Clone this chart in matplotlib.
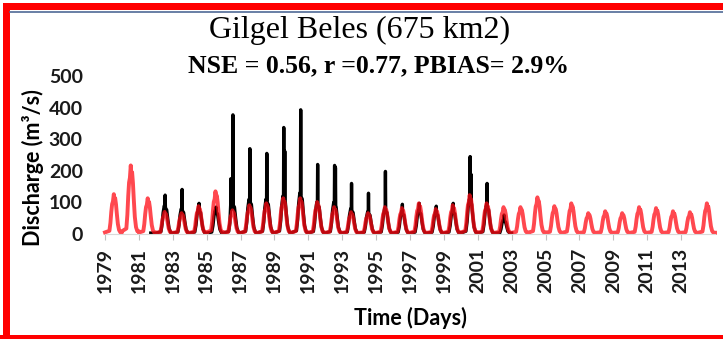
"""
Hidrograma diario Gilgel Beles: caudal simulado vs observado.
"""

import matplotlib.pyplot as plt
import matplotlib.patches as patches
from matplotlib.lines import Line2D

# ============================================
# 1. Datos
# ============================================
SIM_YEARS = list(range(1979, 2015))
# pico anual simulado (m3/s)
SIM_PEAK = [126, 217, 113, 70, 66, 88, 135, 75, 91, 97, 113, 113, 101, 85, 69, 66, 85, 82,
            97, 79, 91, 123, 97, 85, 85, 116, 88, 97, 66, 72, 66, 85, 82, 72, 69, 97]

OBS_YEARS = list(range(1982, 2003))
# pico diario observado (m3/s)
OBS_PEAK = [123, 141, 97, 85, 377, 270, 255, 337, 393, 220, 217, 160, 129, 198, 94, 97,
            88, 97, 245, 160, 60]
# nivel de la crecida estacional observada
OBS_HUMP = [90, 80, 80, 75, 100, 110, 110, 120, 130, 100, 100, 80, 70, 80, 70, 75, 70, 75,
            110, 90, 45]
# segundo pico visible: año -> (fracción del año, caudal)
OBS_SECOND = {1986: (0.43, 175), 1989: (0.61, 262), 1992: (0.60, 210), 2000: (0.60, 189)}

# forma de la crecida anual (fracción del año, fracción del pico)
SIM_SHAPE_T = [0.0, 0.26, 0.32, 0.37, 0.42, 0.47, 0.52, 0.56, 0.60, 0.65, 0.70, 0.76, 0.83, 0.91, 1.0]
SIM_SHAPE_V = [0.04, 0.08, 0.28, 0.55, 0.75, 0.82, 1.0, 0.86, 0.9, 0.74, 0.5, 0.25, 0.1, 0.04, 0.04]

OBS_SHAPE_T = [0.0, 0.30, 0.37, 0.43, 0.50, 0.55, 0.58, 0.64, 0.71, 0.78, 0.88, 1.0]
OBS_SHAPE_V = [0.03, 0.08, 0.35, 0.75, 1.0, None, 0.9, 0.85, 0.5, 0.2, 0.05, 0.03]

YTICKS = [0, 100, 200, 300, 400, 500]
XTICKS = list(range(1979, 2015, 2))

SIM_COLOR = '#FF0A14'
OBS_COLOR = '#000000'


def build_sim():
    t, q = [], []
    for yr, pk in zip(SIM_YEARS, SIM_PEAK):
        for f, v in zip(SIM_SHAPE_T, SIM_SHAPE_V):
            t.append(yr + f)
            q.append(max(v * pk, 4))
    return t, q


def build_obs():
    t, q = [1981.7], [3]
    for yr, pk, h in zip(OBS_YEARS, OBS_PEAK, OBS_HUMP):
        pts = []
        for f, v in zip(OBS_SHAPE_T, OBS_SHAPE_V):
            if v is None:
                pts.append((f - 0.015, 0.95 * h))
                pts.append((f, pk))
                pts.append((f + 0.015, 0.95 * h))
            else:
                pts.append((f, max(v * h, 3)))
        if yr in OBS_SECOND:
            fs, vs = OBS_SECOND[yr]
            pts += [(fs - 0.015, 0.9 * h), (fs, vs), (fs + 0.015, 0.9 * h)]
        pts.sort()
        for f, v in pts:
            t.append(yr + f)
            q.append(v)
    return t, q


# ============================================
# 2. Figura
# ============================================
W, H = 723, 339
fig = plt.figure(figsize=(W / 100, H / 100), dpi=100)
ax = fig.add_axes([105 / W, 1 - 234 / H, 610 / W, 158 / H])

ot, oq = build_obs()
st, sq = build_sim()
ax.plot(ot, oq, color=OBS_COLOR, lw=2.4, clip_on=False)
ax.plot(st, sq, color=SIM_COLOR, lw=2.8, alpha=0.75, clip_on=False)

ax.set_xlim(1979, 2015)
ax.set_ylim(0, 500)
ax.set_yticks(YTICKS)
ax.set_xticks(XTICKS)
ax.set_xticklabels([str(y) for y in XTICKS], rotation=90)

for s in ['top', 'right', 'left']:
    ax.spines[s].set_visible(False)
ax.spines['bottom'].set_color('#D9D9D9')
ax.tick_params(axis='y', length=0, pad=16)
ax.tick_params(axis='x', length=4, color='#BFBFBF', pad=6)
for lab in ax.get_xticklabels() + ax.get_yticklabels():
    lab.set_fontfamily('Lato')
    lab.set_fontweight('bold')
    lab.set_fontsize(14)
    lab.set_color('#1a1a1a')

ax.set_ylabel('Discharge (m³/s)', fontfamily='Lato', fontweight='bold', fontsize=15.5)
ax.yaxis.set_label_coords(-0.1, 0.42)

fig.text(410 / W, 1 - 318 / H, 'Time (Days)', ha='center', va='center',
         fontfamily='Lato', fontweight='bold', fontsize=15.5)
fig.text(360 / W, 1 - 30 / H, 'Gilgel Beles (675 km2)', ha='center', va='center',
         fontfamily='Liberation Serif', fontsize=23)
fig.text(378 / W, 1 - 66 / H, 'NSE = 0.56, r =0.77, PBIAS= 2.9%', ha='center', va='center',
         fontfamily='Liberation Serif', fontweight='bold', fontsize=18.5)

# marco rojo
fig.patches.append(patches.Rectangle((3 / W, 1 - 10 / H), 1, 7 / H, transform=fig.transFigure,
                                     facecolor='red', edgecolor='none'))
fig.patches.append(patches.Rectangle((3 / W, 0), 7 / W, 1 - 3 / H, transform=fig.transFigure,
                                     facecolor='red', edgecolor='none'))
fig.patches.append(patches.Rectangle((0, 0), 1, 4 / H, transform=fig.transFigure,
                                     facecolor='red', edgecolor='none'))
fig.lines.append(Line2D([10 / W, 1], [1 - 11.8 / H, 1 - 11.8 / H], transform=fig.transFigure,
                        color='#4F6A96', lw=1.2))

fig.savefig('out.png', dpi=100)
